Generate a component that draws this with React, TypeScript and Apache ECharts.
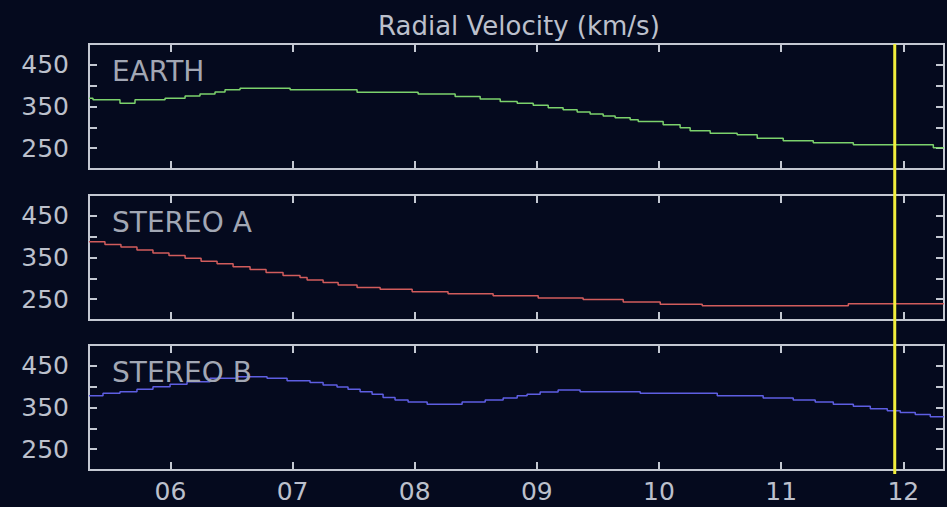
import React, { useEffect, useRef } from "react";
import * as echarts from "echarts";

// ---- data (x in day-of-month, y in km/s) ----
const DAY_TICKS = [6, 7, 8, 9, 10, 11, 12];
const X_MIN = 5 + 1 / 3;
const X_MAX = 12 + 1 / 3;
const NOW_DAY = 11.93;
const Y_MIN = 200;
const Y_MAX = 500;
const Y_LABELS = [250, 350, 450];
const PANEL_NAMES = ["EARTH", "STEREO A", "STEREO B"];

const earthDays = [5.333, 5.366, 5.587, 5.71, 5.956, 6.12, 6.242, 6.365, 6.447, 6.57, 6.98, 7.528, 8.028, 8.331, 8.536, 8.7, 8.839, 8.97, 9.093, 9.215, 9.33, 9.436, 9.543, 9.641, 9.764, 9.83, 10.034, 10.173, 10.255, 10.419, 10.64, 10.804, 11.017, 11.263, 11.591, 12.246, 12.333];
const earthVals = [370, 366, 358, 366, 370, 375, 380, 385, 390, 394, 390, 384, 380, 374, 368, 362, 358, 353, 347, 342, 337, 332, 327, 323, 318, 314, 306, 299, 292, 286, 282, 274, 268, 263, 258, 251, 251];

const stereoADays = [5.333, 5.464, 5.595, 5.726, 5.857, 5.988, 6.12, 6.251, 6.382, 6.513, 6.652, 6.783, 6.922, 7.061, 7.119, 7.25, 7.373, 7.528, 7.717, 7.979, 8.273, 8.642, 9.011, 9.379, 9.707, 10.01, 10.354, 11.55, 12.333];
const stereoAVals = [388, 381, 375, 368, 361, 355, 348, 341, 335, 328, 321, 314, 307, 302, 296, 290, 284, 278, 274, 268, 263, 258, 253, 249, 243, 238, 234, 239, 239];

const stereoBDays = [5.333, 5.448, 5.587, 5.726, 5.857, 5.997, 6.136, 6.324, 6.545, 6.791, 6.955, 7.143, 7.25, 7.364, 7.454, 7.553, 7.651, 7.741, 7.839, 7.946, 8.102, 8.388, 8.577, 8.724, 8.839, 8.92, 9.027, 9.174, 9.354, 9.846, 10.477, 10.853, 11.099, 11.279, 11.427, 11.591, 11.73, 11.869, 11.975, 12.098, 12.221, 12.333];
const stereoBVals = [378, 384, 388, 394, 400, 406, 412, 420, 424, 420, 414, 410, 404, 399, 394, 388, 382, 374, 368, 363, 358, 363, 368, 373, 378, 382, 387, 392, 388, 384, 378, 373, 368, 363, 358, 353, 347, 342, 338, 333, 328, 328];

const SERIES_DAYS = [earthDays, stereoADays, stereoBDays];
const SERIES_VALS = [earthVals, stereoAVals, stereoBVals];
const SERIES_COLORS = ["#7cd26c", "#d25c5c", "#5e5ee2"];

const BG = "#050a1e";
const FRAME = "#c4c8d2";
const TEXT = "#bcc0cc";
const FONT = "DejaVu Sans";

export default function App() {
  const ref = useRef<HTMLDivElement>(null);

  useEffect(() => {
    if (!ref.current) return;
    const chart = echarts.init(ref.current, undefined, { renderer: "svg" });

    const tops = [44, 195, 345];
    const grids = tops.map((t) => ({
      left: 89,
      right: 3,
      top: t,
      height: 125,
      show: true,
      borderColor: FRAME,
      borderWidth: 2,
      backgroundColor: "transparent",
    }));

    const tickStyle = { color: FRAME, width: 2 };
    const xAxes: any[] = [];
    const yAxes: any[] = [];
    for (let i = 0; i < 3; i++) {
      for (const pos of ["bottom", "top"]) {
        xAxes.push({
          type: "value",
          gridIndex: i,
          position: pos,
          min: X_MIN,
          max: X_MAX,
          axisLine: { show: false },
          splitLine: { show: false },
          axisTick: { show: true, inside: true, length: 8, lineStyle: tickStyle, customValues: DAY_TICKS },
          axisLabel: {
            show: i === 2 && pos === "bottom",
            customValues: DAY_TICKS,
            formatter: (v: number) => String(Math.round(v)).padStart(2, "0"),
            color: TEXT,
            fontSize: 25,
            fontFamily: FONT,
            margin: 9,
          },
        });
      }
      for (const pos of ["left", "right"]) {
        yAxes.push({
          type: "value",
          gridIndex: i,
          position: pos,
          min: Y_MIN,
          max: Y_MAX,
          interval: 50,
          axisLine: { show: false },
          splitLine: { show: false },
          axisTick: { show: true, inside: true, length: 8, lineStyle: tickStyle },
          axisLabel: {
            show: pos === "left",
            formatter: (v: number) => (Y_LABELS.includes(v) ? String(v) : ""),
            color: TEXT,
            fontSize: 25,
            fontFamily: FONT,
            margin: 20,
          },
        });
      }
    }

    const series = SERIES_DAYS.map((days, i) => ({
      type: "line",
      xAxisIndex: i * 2,
      yAxisIndex: i * 2,
      step: "end",
      showSymbol: false,
      symbol: "none",
      data: days.map((d, k) => [d, SERIES_VALS[i][k]]),
      lineStyle: { color: SERIES_COLORS[i], width: 1.5 },
      itemStyle: { color: SERIES_COLORS[i] },
      z: 3,
    }));

    const labels = PANEL_NAMES.map((name, i) => ({
      type: "text",
      left: 112,
      top: tops[i] + 13,
      z: 10,
      style: { text: name, fill: "#a2a7b4", fontSize: 28, fontFamily: FONT },
    }));

    chart.setOption({
      animation: false,
      backgroundColor: BG,
      title: {
        text: "Radial Velocity (km/s)",
        left: 373,
        top: 8,
        textStyle: { color: TEXT, fontSize: 26, fontWeight: "normal", fontFamily: FONT },
      },
      grid: grids,
      xAxis: xAxes,
      yAxis: yAxes,
      series,
      graphic: labels,
    });

    // yellow "now" line computed through the axis scales
    const px = chart.convertToPixel({ xAxisIndex: 0 }, NOW_DAY) as number;
    const yTop = chart.convertToPixel({ yAxisIndex: 0 }, Y_MAX) as number;
    const yBot = (chart.convertToPixel({ yAxisIndex: 4 }, Y_MIN) as number) + 4;
    chart.setOption({
      graphic: [
        ...labels,
        {
          type: "line",
          z: 20,
          shape: { x1: px, y1: yTop, x2: px, y2: yBot },
          style: { stroke: "#f2ee3c", lineWidth: 3 },
        },
      ],
    });

    return () => chart.dispose();
  }, []);

  return (
    <div
      ref={ref}
      style={{ position: "fixed", left: 0, top: 0, width: 947, height: 507 }}
    />
  );
}
